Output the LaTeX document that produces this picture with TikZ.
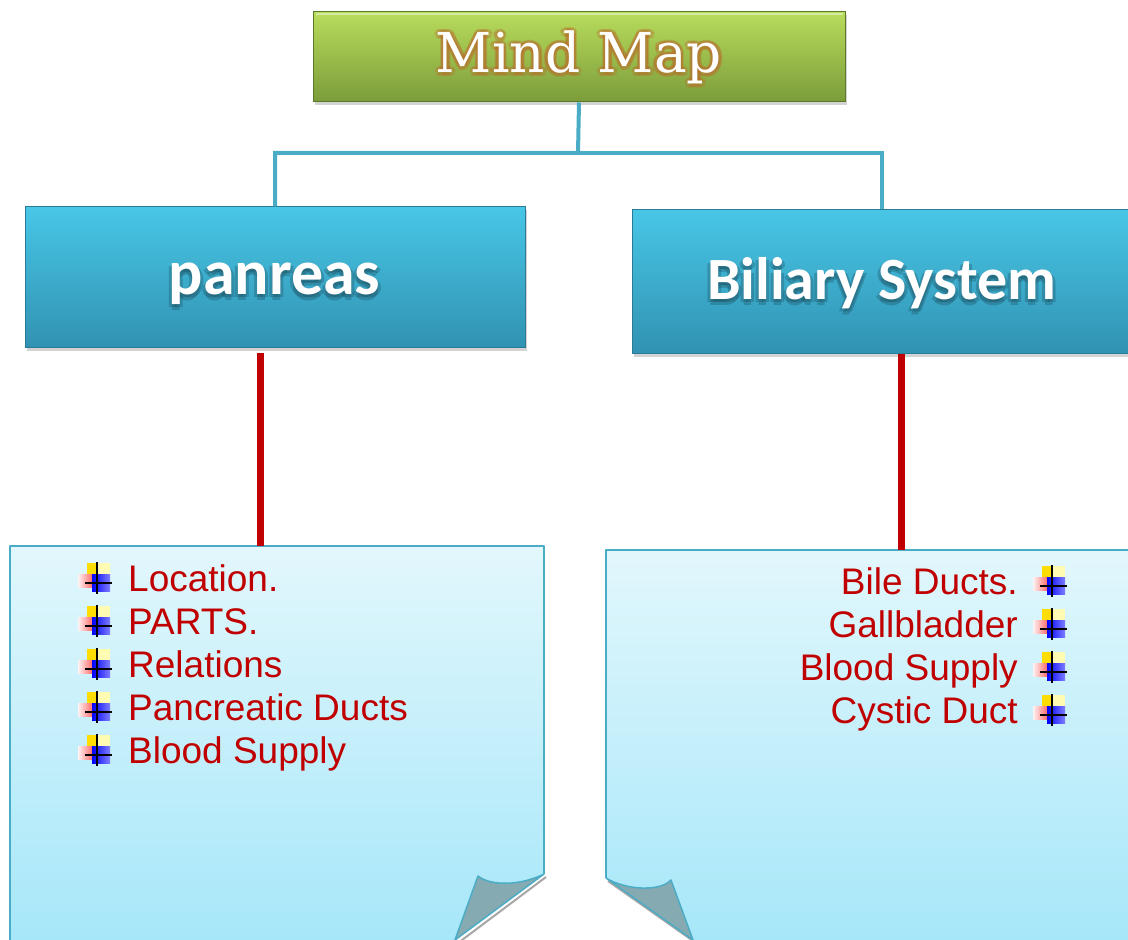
\documentclass[tikz,border=0pt]{standalone}
\usepackage{fontspec}
\usetikzlibrary{shadows,calc}
\setmainfont{Liberation Sans}
\newfontfamily\titlefont{DejaVu Serif}
\newfontfamily\boxfont{Carlito}

\definecolor{mmtop}{HTML}{B8DC5C}
\definecolor{mmbot}{HTML}{7B9C3A}
\definecolor{mmedge}{HTML}{5A7A2A}
\definecolor{glow}{HTML}{B8702C}
\definecolor{bxtop}{HTML}{48C6E6}
\definecolor{bxbot}{HTML}{3192B2}
\definecolor{bxedge}{HTML}{2A7C96}
\definecolor{linkblue}{HTML}{4BACC6}
\definecolor{linkred}{HTML}{C00000}
\definecolor{notetop}{HTML}{E2F7FC}
\definecolor{notebot}{HTML}{A6E7F9}
\definecolor{curl}{HTML}{86AAB2}

\tikzset{mmbox/.style = {rectangle, minimum width=532pt, minimum height=90pt,
                         top color=mmtop, bottom color=mmbot, draw=mmedge, line width=1pt,
                         drop shadow={shadow xshift=2pt, shadow yshift=-3pt, opacity=.35}},
         topic/.style = {rectangle, minimum width=500pt, minimum height=#1,
                         top color=bxtop, bottom color=bxbot, draw=bxedge, line width=1pt,
                         drop shadow={shadow xshift=2pt, shadow yshift=-3pt, opacity=.35}},
         topic/.default=141pt,
         mmtext/.style = {font=\titlefont\fontsize{55}{60}\selectfont, inner sep=0pt},
         toptext/.style = {font=\boxfont\bfseries\fontsize{#1}{70}\selectfont, inner sep=0pt},
         bluelink/.style = {draw=linkblue, line width=4pt},
         redlink/.style = {draw=linkred, line width=7pt},
         note/.style = {top color=notetop, bottom color=notebot},
         noteline/.style = {draw=linkblue, line width=1.5pt, line join=round},
         item/.style = {font=\fontsize{37}{40}\selectfont, text=linkred, inner sep=0pt},
         puce/.pic = {
           \fill[yellow!80!orange] (-8,-4) rectangle (2,15);
           \fill[yellow!30] (2,-4) rectangle (15,15);
           \fill[left color=red!5, right color=red!60] (-17,-10) rectangle (-2,3);
           \fill[left color=blue, right color=blue!50] (-3,-14) rectangle (15,3);
           \draw[black, line width=1.6pt] (2,-16) -- (2,16) (-10,-5) -- (17,-5);
         }
        }

\begin{document}
\begin{tikzpicture}[x=1pt,y=1pt]
\clip (0,0) rectangle (1128,940);
% notes
\fill[note] (10,394) -- (544,394) -- (544,66) .. controls (520,54) and (490,54) .. (478,64)
            -- (455,0) -- (10,0) -- cycle;
\draw[noteline] (10,0) -- (10,394) -- (544,394) -- (544,66);
\draw[gray!70, line width=2pt] (546,63) -- (458,-3);
\filldraw[fill=curl, noteline] (544,66) .. controls (520,54) and (490,54) .. (478,64)
            -- (455,0) -- cycle;
\fill[note] (1140,390) -- (606,390) -- (606,62) .. controls (625,50) and (660,48) .. (671,60)
            -- (693,0) -- (1140,0) -- cycle;
\draw[noteline] (1140,390) -- (606,390) -- (606,62);
\draw[gray!70, line width=2pt] (608,59) -- (696,-3);
\filldraw[fill=curl, noteline] (606,62) .. controls (625,50) and (660,48) .. (671,60)
            -- (693,0) -- cycle;
\coordinate (noteL) at (260,394);
\coordinate (noteR) at (901,390);

% boxes
\node[mmbox] (mm) at (579,883) {};
\draw[white, opacity=.4, line width=2pt] ([shift={(3,-3)}]mm.north west) -- ([shift={(-3,-3)}]mm.north east);
\node[topic] (pan) at (275,662.5) {};
\node[topic=144pt] (bil) at (882,658) {};

% links
\coordinate (fork) at (578,787);
\draw[bluelink] (mm.south) -- (fork) -| (pan.north);
\draw[bluelink] (fork) -| (bil.north);
\draw[redlink] ([yshift=-5pt]noteL |- pan.south) -- (noteL);
\draw[redlink] (noteR |- bil.south) -- (noteR);

% titles
\foreach \a in {0,45,...,315}
  \node[mmtext, anchor=base, text=glow, opacity=.35] at ($(579,867)+(\a:3.5)$) {Mind Map};
\node[mmtext, anchor=base, text=white] (mmlabel) at (579,867) {Mind Map};
\foreach \a in {0,90,...,270}
  \node[toptext=64, anchor=base, text=bxedge!60!black, opacity=.3] at ($(274.5,642)+(\a:3)$) {panreas};
\node[toptext=64, anchor=base, text=white] (panlabel) at (274.5,645) {panreas};
\foreach \a in {0,90,...,270}
  \node[toptext=60, anchor=base, text=bxedge!60!black, opacity=.3] at ($(881.5,637)+(\a:3)$) {Biliary System};
\node[toptext=60, anchor=base, text=white] (billabel) at (881.5,640) {Biliary System};

% left list
\node[item, anchor=base west] (loc) at (128,348) {Location.};
\node[item, anchor=base west] (parts) at (128,305) {PARTS.};
\node[item, anchor=base west] (rel) at (128,262) {Relations};
\node[item, anchor=base west] (pduct) at (128,219) {Pancreatic Ducts};
\node[item, anchor=base west] (bloodL) at (128,176) {Blood Supply};
\pic at (95,362) {puce};
\pic at (95,319) {puce};
\pic at (95,276) {puce};
\pic at (95,233) {puce};
\pic at (95,190) {puce};

% right list
\node[item, anchor=base east] (bile) at (1018,345) {Bile Ducts.};
\node[item, anchor=base east] (gall) at (1018,302) {Gallbladder};
\node[item, anchor=base east] (bloodR) at (1018,259) {Blood Supply};
\node[item, anchor=base east] (cystic) at (1018,216) {Cystic Duct};
\pic at (1050,359) {puce};
\pic at (1050,316) {puce};
\pic at (1050,273) {puce};
\pic at (1050,230) {puce};
\end{tikzpicture}
\end{document}
